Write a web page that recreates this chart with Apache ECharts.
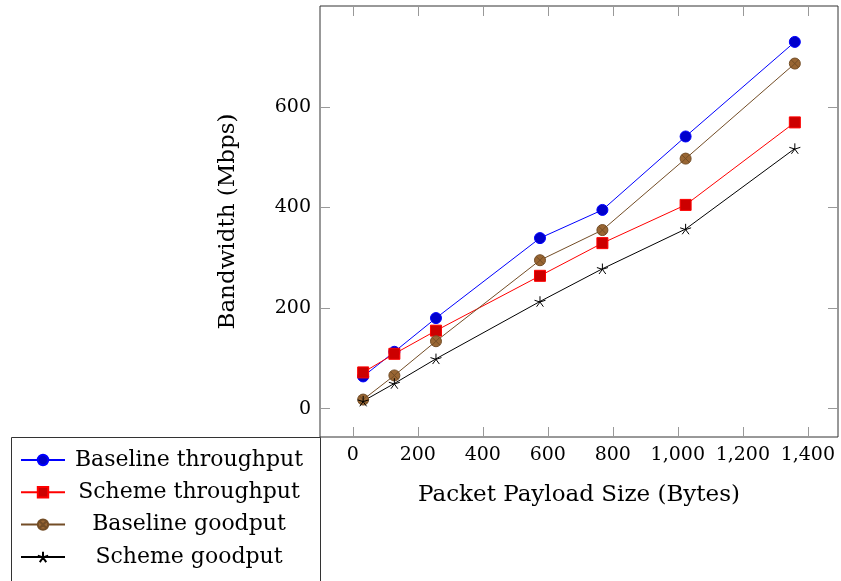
<!DOCTYPE html>
<html>
<head>
<meta charset="utf-8">
<script src="https://cdn.jsdelivr.net/npm/echarts@6/dist/echarts.min.js"></script>
<style>html,body{margin:0;padding:0;background:#fff}#c{width:841px;height:581px}</style>
</head>
<body>
<div id="c"></div>
<script>
const payloadSizes = [32, 128, 256, 576, 768, 1024, 1360];
const baselineThroughput = [64, 113, 180, 339, 395, 541, 729];
const schemeThroughput = [72, 109, 155, 264, 329, 405, 569];
const baselineGoodput = [18, 66, 134, 295, 355, 497, 686];
const schemeGoodput = [15, 50, 99, 213, 278, 357, 517];
const seriesNames = ['Baseline throughput', 'Scheme throughput', 'Baseline goodput', 'Scheme goodput'];
const xTicks = [0, 200, 400, 600, 800, 1000, 1200, 1400];
const yTicks = [0, 200, 400, 600];

const FONT = 'DejaVu Serif';
const pairs = ys => payloadSizes.map((x, i) => [x, ys[i]]);
const allY = [].concat(baselineThroughput, schemeThroughput, baselineGoodput, schemeGoodput);
const yMinD = Math.min(...allY), yMaxD = Math.max(...allY);
const yPad = (yMaxD - yMinD) * 0.1;
const xMinD = Math.min(...payloadSizes), xMaxD = Math.max(...payloadSizes);
const xPad = (xMaxD - xMinD) * 0.1;
const fmt = v => String(v).replace(/\B(?=(\d{3})+(?!\d))/g, ',');

const otimes = 'path://M10,0 A10,10 0 1,1 10,20 A10,10 0 1,1 10,0 Z M2.93,2.93 L17.07,17.07 M17.07,2.93 L2.93,17.07';
const star = 'path://M10,0 L10,10 M10,10 L19.51,6.91 M10,10 L15.88,18.09 M10,10 L4.12,18.09 M10,10 L0.49,6.91';

const tickStyle = {show: true, inside: true, length: 10, lineStyle: {color: '#999', width: 1}};
const noLine = {show: false, onZero: false};

const chart = echarts.init(document.getElementById('c'));
chart.setOption({
  animation: false,
  backgroundColor: '#fff',
  grid: {left: 320, right: 3, top: 6, bottom: 144, show: true, borderColor: '#333', borderWidth: 1, containLabel: false},
  xAxis: [{
    type: 'value', min: xMinD - xPad, max: xMaxD + xPad,
    name: 'Packet Payload Size (Bytes)', nameLocation: 'middle', nameGap: 47,
    nameTextStyle: {fontFamily: FONT, fontSize: 23, color: '#000'},
    axisLine: noLine, splitLine: {show: false},
    axisTick: Object.assign({customValues: xTicks}, tickStyle),
    axisLabel: {customValues: xTicks, formatter: fmt, fontFamily: FONT, fontSize: 19, color: '#000', margin: 9}
  }, {
    type: 'value', position: 'top', min: xMinD - xPad, max: xMaxD + xPad,
    axisLine: noLine, splitLine: {show: false},
    axisTick: Object.assign({customValues: xTicks}, tickStyle),
    axisLabel: {show: false}
  }],
  yAxis: [{
    type: 'value', min: yMinD - yPad, max: yMaxD + yPad,
    name: 'Bandwidth (Mbps)', nameLocation: 'middle', nameGap: 80,
    nameTextStyle: {fontFamily: FONT, fontSize: 23, color: '#000'},
    axisLine: noLine, splitLine: {show: false},
    axisTick: Object.assign({customValues: yTicks}, tickStyle),
    axisLabel: {customValues: yTicks, fontFamily: FONT, fontSize: 19, color: '#000', margin: 9}
  }, {
    type: 'value', position: 'right', min: yMinD - yPad, max: yMaxD + yPad,
    axisLine: noLine, splitLine: {show: false},
    axisTick: Object.assign({customValues: yTicks}, tickStyle),
    axisLabel: {show: false}
  }],
  legend: {
    orient: 'vertical', left: 20, top: 449, padding: 0, itemGap: 10.3,
    itemWidth: 44, itemHeight: 13,
    data: seriesNames,
    formatter: n => '{a|' + n + '}',
    textStyle: {fontFamily: FONT, fontSize: 22, color: '#000',
      rich: {a: {fontFamily: FONT, fontSize: 22, color: '#000', width: 238, align: 'center'}}}
  },
  graphic: [{
    type: 'rect', shape: {x: 11.5, y: 437.5, width: 309, height: 160},
    style: {fill: 'none', stroke: '#333', lineWidth: 1}, z: 100
  }],
  series: [
    {name: seriesNames[0], type: 'line', data: pairs(baselineThroughput), symbol: 'circle', symbolSize: 11,
     lineStyle: {color: '#0000ff', width: 1}, itemStyle: {color: '#0000cc', borderColor: '#0000ff', borderWidth: 1}},
    {name: seriesNames[1], type: 'line', data: pairs(schemeThroughput), symbol: 'rect', symbolSize: 11,
     lineStyle: {color: '#ff0000', width: 1}, itemStyle: {color: '#cc0000', borderColor: '#ff0000', borderWidth: 1}},
    {name: seriesNames[2], type: 'line', data: pairs(baselineGoodput), symbol: otimes, symbolSize: 11,
     lineStyle: {color: '#734d26', width: 1}, itemStyle: {color: '#996633', borderColor: '#734d26', borderWidth: 1}},
    {name: seriesNames[3], type: 'line', data: pairs(schemeGoodput), symbol: star, symbolSize: 11, symbolKeepAspect: true,
     lineStyle: {color: '#000', width: 1}, itemStyle: {color: '#000', borderColor: '#000', borderWidth: 1}}
  ].map(s => Object.assign(s, {emphasis: {disabled: true}, silent: true}))
});
</script>
</body>
</html>
